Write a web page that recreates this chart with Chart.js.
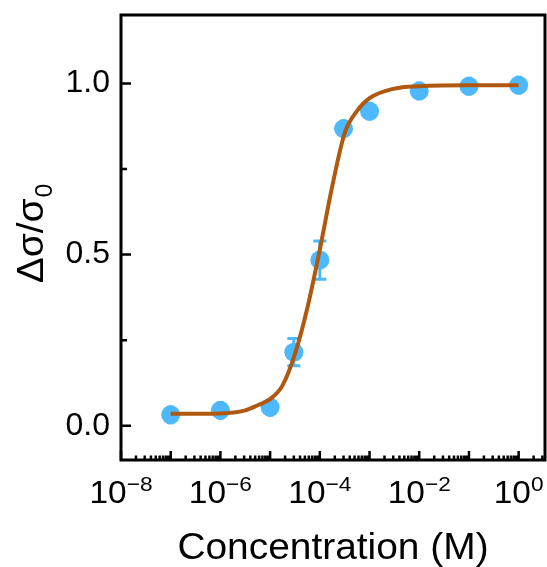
<!DOCTYPE html>
<html>
<head>
<meta charset="utf-8">
<script src="https://cdn.jsdelivr.net/npm/chart.js@4.4.1/dist/chart.umd.min.js"></script>
<style>
  body { margin: 0; background: #fff; }
  #wrap { width: 547px; height: 567px; position: relative; }
</style>
</head>
<body>
<div id="wrap"><canvas id="doseChart"></canvas></div>
<script>
// measured points
const concentrations = [1e-7, 1e-6, 1e-5, 3e-5, 1e-4, 3e-4, 1e-3, 1e-2, 1e-1, 1];
const response = [0.032, 0.045, 0.054, 0.215, 0.484, 0.868, 0.919, 0.978, 0.992, 0.995];
const responseErr = [0.023, 0.023, 0.023, 0.04, 0.056, 0.023, 0.023, 0.023, 0.023, 0.023];

// fitted curve (log10 of concentration)
const fitLogConc = [-7, -6, -5.5, -5.25, -5, -4.75, -4.5, -4.25, -4, -3.75, -3.5, -3.25, -3, -2.5, -2, -1, 0];
const fitResponse = [0.035, 0.036, 0.045, 0.060, 0.078, 0.118, 0.21, 0.345, 0.515, 0.70, 0.855, 0.92, 0.957, 0.985, 0.992, 0.995, 0.995];

const yTicks = [0, 0.5, 1.0];
const yMinorTicks = [0.25, 0.75];
const xMajorExps = [-8, -7, -6, -5, -4, -3, -2, -1, 0];
const xLabelExps = [-8, -6, -4, -2, 0];

const blue = '#4db8fc';
const brown = '#b1580f';
const font = '"Liberation Sans", Arial, sans-serif';
const stretch = 1.08;

let frame = {
  id: 'frame',
  beforeDatasetsDraw(chart) {
    // error bars under the markers
    let ctx = chart.ctx, xs = chart.scales.x, ys = chart.scales.y;
    ctx.save();
    ctx.strokeStyle = blue;
    ctx.lineWidth = 3;
    concentrations.forEach(function (c, i) {
      let px = xs.getPixelForValue(c);
      let top = ys.getPixelForValue(response[i] + responseErr[i]);
      let bot = ys.getPixelForValue(response[i] - responseErr[i]);
      let cap = responseErr[i] > 0.03 ? 6.5 : 3;
      ctx.beginPath();
      ctx.moveTo(px, top); ctx.lineTo(px, bot);
      ctx.moveTo(px - cap, top); ctx.lineTo(px + cap, top);
      ctx.moveTo(px - cap, bot); ctx.lineTo(px + cap, bot);
      ctx.stroke();
    });
    ctx.restore();
  },
  afterDraw(chart) {
    let ctx = chart.ctx, a = chart.chartArea;
    let xs = chart.scales.x, ys = chart.scales.y;
    ctx.save();
    ctx.strokeStyle = '#000';
    ctx.lineWidth = 3;
    ctx.strokeRect(a.left, a.top, a.right - a.left, a.bottom - a.top);

    ctx.lineWidth = 2.5;
    ctx.beginPath();
    yTicks.forEach(function (v) {
      let py = ys.getPixelForValue(v);
      ctx.moveTo(a.left, py); ctx.lineTo(a.left + 10, py);
    });
    yMinorTicks.forEach(function (v) {
      let py = ys.getPixelForValue(v);
      ctx.moveTo(a.left, py); ctx.lineTo(a.left + 6, py);
    });
    xMajorExps.forEach(function (e) {
      let px = xs.getPixelForValue(Math.pow(10, e));
      ctx.moveTo(px, a.bottom); ctx.lineTo(px, a.bottom - 9);
      for (let k = 2; k < 10; k++) {
        let mx = xs.getPixelForValue(k * Math.pow(10, e));
        if (mx < a.right - 1) {
          ctx.moveTo(mx, a.bottom); ctx.lineTo(mx, a.bottom - 4.5);
        }
      }
    });
    ctx.stroke();

    // x tick labels 10^n
    ctx.fillStyle = '#000';
    ctx.textBaseline = 'alphabetic';
    ctx.textAlign = 'left';
    xLabelExps.forEach(function (e) {
      let px = xs.getPixelForValue(Math.pow(10, e));
      let exp = e < 0 ? '\u2212' + (-e) : String(e);
      ctx.font = '31px ' + font;
      let w1 = ctx.measureText('10').width;
      ctx.font = '21px ' + font;
      let w2 = ctx.measureText(exp).width;
      ctx.save();
      ctx.translate(px, a.bottom + 43);
      ctx.scale(stretch, 1);
      let x0 = -(w1 + w2) / 2;
      ctx.font = '31px ' + font;
      ctx.fillText('10', x0, 0);
      ctx.font = '21px ' + font;
      ctx.fillText(exp, x0 + w1, -12);
      ctx.restore();
    });

    // x title
    ctx.save();
    ctx.translate((a.left + a.right) / 2, a.bottom + 99);
    ctx.scale(stretch, 1);
    ctx.textAlign = 'center';
    ctx.font = '36px ' + font;
    ctx.fillText('Concentration (M)', 0, 0);
    ctx.restore();

    // y title with subscript
    ctx.translate(43, 234);
    ctx.rotate(-Math.PI / 2);
    ctx.scale(stretch, 1);
    ctx.textAlign = 'left';
    ctx.font = '36px ' + font;
    let main = '\u0394\u03c3/\u03c3';
    let wm = ctx.measureText(main).width;
    ctx.font = '23px ' + font;
    let ws = ctx.measureText('0').width;
    let sx = -(wm + ws) / 2;
    ctx.font = '36px ' + font;
    ctx.fillText(main, sx, 0);
    ctx.font = '23px ' + font;
    ctx.fillText('0', sx + wm + 1, 9);
    ctx.restore();
  }
};

let ctx = document.getElementById('doseChart').getContext('2d');

let doseChart = new Chart(ctx, {
  type: 'scatter',
  data: {
    datasets: [{
      type: 'line',
      label: 'fit',
      data: fitLogConc.map(function (e, i) { return { x: Math.pow(10, e), y: fitResponse[i] }; }),
      borderColor: brown,
      borderWidth: 4,
      pointRadius: 0,
      fill: false,
      cubicInterpolationMode: 'monotone',
      order: 0
    }, {
      label: 'data',
      data: concentrations.map(function (c, i) { return { x: c, y: response[i] }; }),
      backgroundColor: blue,
      borderWidth: 0,
      pointRadius: 9.5,
      order: 1
    }]
  },
  options: {
    responsive: true,
    maintainAspectRatio: false,
    animation: false,
    layout: { autoPadding: false, padding: { top: 15, right: 2, left: 0, bottom: 0 } },
    plugins: {
      legend: { display: false },
      tooltip: { enabled: false }
    },
    scales: {
      x: {
        type: 'logarithmic',
        min: 1e-8,
        max: Math.pow(10, 0.53),
        grid: { display: false, drawTicks: false },
        border: { display: false },
        ticks: { display: false },
        afterFit: function (scale) {
          scale.height = 107;
          scale.paddingLeft = 0; scale.paddingRight = 0;
        }
      },
      y: {
        min: -0.1,
        max: 1.2,
        grid: { display: false, drawTicks: false },
        border: { display: false },
        afterBuildTicks: function (scale) {
          scale.ticks = yTicks.map(function (v) { return { value: v }; });
        },
        ticks: {
          color: '#000',
          padding: 11,
          font: { family: font, size: 32 },
          callback: function (v) { return v.toFixed(1); }
        },
        afterFit: function (scale) {
          scale.width = 121;
          scale.paddingTop = 0; scale.paddingBottom = 0;
        }
      }
    }
  },
  plugins: [frame]
});
</script>
</body>
</html>
